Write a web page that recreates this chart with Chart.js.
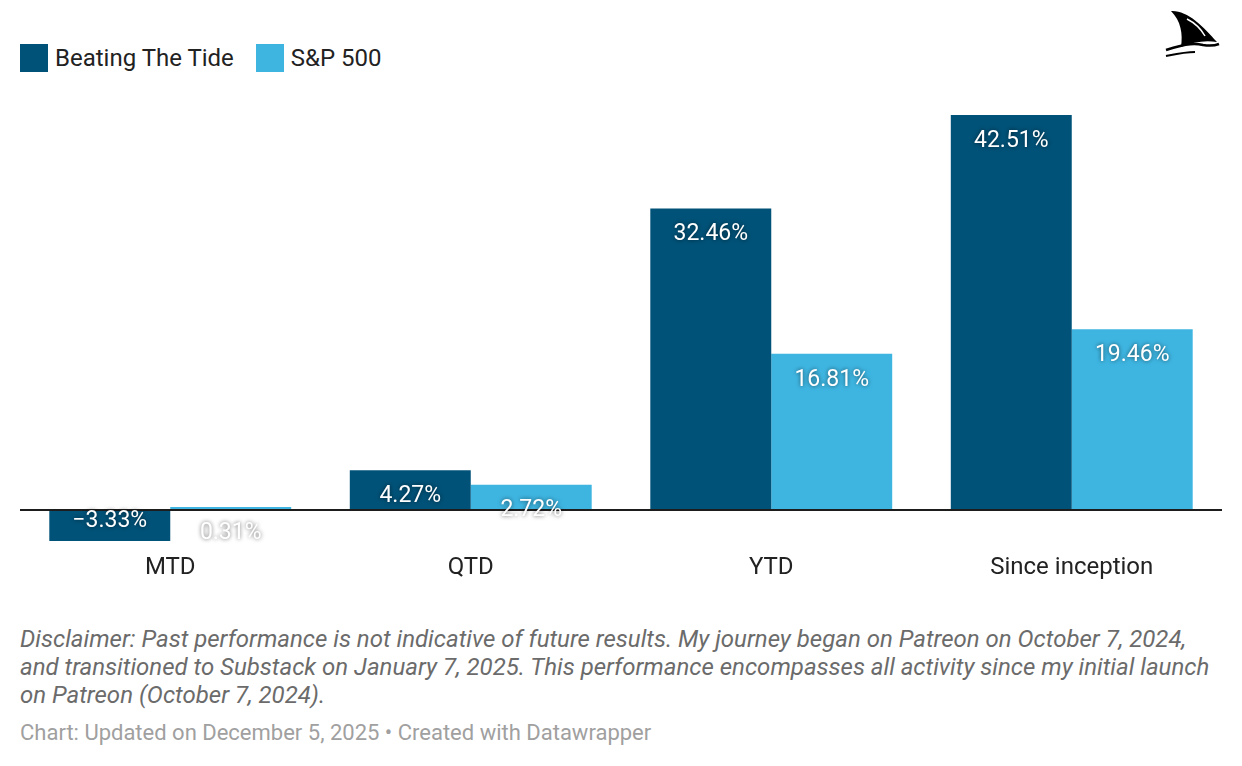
<!DOCTYPE html>
<html>
<head>
<meta charset="utf-8">
<script src="https://cdn.jsdelivr.net/npm/chart.js@4"></script>
<style>
  body { margin: 0; background: #fff; font-family: Roboto, sans-serif; }
  #page { position: relative; width: 1242px; height: 766px; overflow: hidden; }
  .legend { position: absolute; top: 44px; left: 20px; display: flex; align-items: center; font-size: 24px; color: #222; }
  .legend span.box { display: inline-block; width: 28px; height: 28px; margin-right: 7px; }
  .legend span.txt { margin-right: 22px; }
  #logo { position: absolute; left: 1163px; top: 6px; }
  #wrap { position: absolute; left: 0; top: 100px; width: 1242px; height: 500px; }
  .note { position: absolute; left: 20px; top: 625px; width: 1202px; font-size: 24px; line-height: 28px; font-style: italic; color: #6b6b6b; }
  .foot { position: absolute; left: 20px; top: 720px; font-size: 22px; color: #a0a0a0; }
</style>
</head>
<body>
<div id="page">
  <div class="legend">
    <span class="box" style="background:#015278"></span><span class="txt">Beating The Tide</span>
    <span class="box" style="background:#3eb5e1"></span><span class="txt">S&amp;P 500</span>
  </div>
  <svg id="logo" width="60" height="54" viewBox="0 0 60 54">
    <path d="M8 5 C24 4 40 20 54 36 C42 34 30 36 18 41 C20 28 18 15 8 5 Z" fill="#000"/>
    <path d="M24 13 C32 17 38 23 42 30" stroke="#fff" stroke-width="1.5" fill="none"/>
    <path d="M3 44 C16 40 28 36 40 39 C46 40 51 40 56 38" stroke="#000" stroke-width="2.5" fill="none"/>
    <path d="M3 50 C13 48 22 46 32 46" stroke="#000" stroke-width="2" fill="none"/>
  </svg>
  <div id="wrap"><canvas id="chart"></canvas></div>
  <div class="note">Disclaimer: Past performance is not indicative of future results. My journey began on Patreon on October 7, 2024, and transitioned to Substack on January 7, 2025. This performance encompasses all activity since my initial launch on Patreon (October 7, 2024).</div>
  <div class="foot">Chart: Updated on December 5, 2025 • Created with Datawrapper</div>
</div>
<script>
const categories = ["MTD", "QTD", "YTD", "Since inception"];
const tideValues = [-3.33, 4.27, 32.46, 42.51];
const spxValues = [0.31, 2.72, 16.81, 19.46];

const zeroLine = {
  id: "zeroLine",
  afterDatasetsDraw(chart) {
    const ctx = chart.ctx;
    const y = chart.scales.y.getPixelForValue(0);
    ctx.save();
    ctx.strokeStyle = "#1d1d1d";
    ctx.lineWidth = 2;
    ctx.beginPath();
    ctx.moveTo(chart.chartArea.left, y);
    ctx.lineTo(chart.chartArea.right, y);
    ctx.stroke();
    ctx.restore();
  }
};

const valueLabels = {
  id: "valueLabels",
  afterDraw(chart) {
    const ctx = chart.ctx;
    ctx.save();
    ctx.font = "23px Roboto";
    ctx.textAlign = "center";
    ctx.textBaseline = "middle";
    ctx.fillStyle = "#fff";
    ctx.shadowColor = "rgba(0,0,0,0.6)";
    ctx.shadowBlur = 4;
    chart.data.datasets.forEach((ds, i) => {
      chart.getDatasetMeta(i).data.forEach((bar, j) => {
        let v = ds.data[j];
        let txt = (v < 0 ? "\u2212" : "") + Math.abs(v).toFixed(2) + "%";
        let y = v < 0 ? bar.y - 20 : bar.y + 26;
        ctx.fillText(txt, bar.x, y);
      });
    });
    ctx.restore();
  }
};

new Chart(document.getElementById("chart"), {
  type: "bar",
  data: {
    labels: categories,
    datasets: [
      { label: "Beating The Tide", data: tideValues, backgroundColor: "#015278" },
      { label: "S&P 500", data: spxValues, backgroundColor: "#3eb5e1" }
    ]
  },
  options: {
    responsive: true,
    maintainAspectRatio: false,
    animation: false,
    layout: { padding: { left: 20, right: 20, top: 0, bottom: 0 } },
    datasets: { bar: { barPercentage: 1, categoryPercentage: 0.805 } },
    plugins: { legend: { display: false }, tooltip: { enabled: false } },
    scales: {
      x: {
        grid: { display: false, drawTicks: false },
        border: { display: false },
        ticks: { color: "#222", font: { family: "Roboto", size: 24 }, padding: 4 },
        afterFit(scale) { scale.height = 50; }
      },
      y: { display: false, min: -4.305, max: 44.125 }
    }
  },
  plugins: [zeroLine, valueLabels]
});
</script>
</body>
</html>
